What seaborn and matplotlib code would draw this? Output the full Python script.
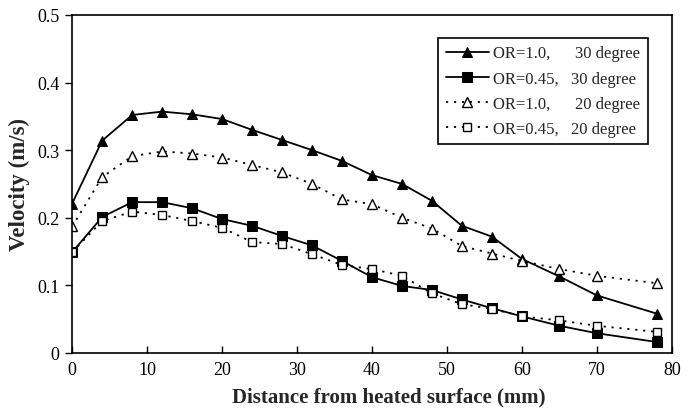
import numpy as np
import pandas as pd
import matplotlib
matplotlib.use("Agg")
import matplotlib.pyplot as plt
import seaborn as sns
from matplotlib.ticker import FuncFormatter

# Measurement positions (mm from heated surface)
distance = [0, 4, 8, 12, 16, 20, 24, 28, 32, 36, 40, 44, 48, 52, 56, 60, 65, 70, 78]

# Velocity profiles (m/s)
v_or10_30 = [0.221, 0.314, 0.352, 0.357, 0.353, 0.346, 0.330, 0.315, 0.300, 0.284,
             0.263, 0.250, 0.225, 0.188, 0.172, 0.139, 0.113, 0.085, 0.058]
v_or045_30 = [0.149, 0.201, 0.223, 0.223, 0.214, 0.198, 0.188, 0.173, 0.159, 0.136,
              0.112, 0.099, 0.093, 0.079, 0.066, 0.054, 0.040, 0.029, 0.016]
v_or10_20 = [0.187, 0.260, 0.291, 0.298, 0.295, 0.289, 0.278, 0.267, 0.250, 0.227,
             0.220, 0.200, 0.184, 0.158, 0.147, 0.136, 0.124, 0.114, 0.103]
v_or045_20 = [0.149, 0.195, 0.209, 0.204, 0.195, 0.185, 0.164, 0.161, 0.146, 0.130,
              0.124, 0.114, 0.088, 0.072, 0.065, 0.054, 0.048, 0.040, 0.031]

labels = ["OR=1.0,      30 degree",
          "OR=0.45,   30 degree",
          "OR=1.0,      20 degree",
          "OR=0.45,   20 degree"]

x_ticks = [0, 10, 20, 30, 40, 50, 60, 70, 80]
y_ticks = [0, 0.1, 0.2, 0.3, 0.4, 0.5]

sns.set_theme(style="white")
plt.rcParams["font.family"] = ["Liberation Serif", "DejaVu Serif"]
plt.rcParams["axes.linewidth"] = 1.2

fig = plt.figure(figsize=(6.94, 4.10), dpi=100)
ax = fig.add_axes([0.104, 0.137, 0.864, 0.824])

dotted = (0, (1.2, 3.2))
series = [
    (v_or10_30, dict(marker="^", markersize=7.5, markerfacecolor="black",
                     markeredgecolor="black", linestyle="-", linewidth=1.3)),
    (v_or045_30, dict(marker="s", markersize=6.5, markerfacecolor="black",
                      markeredgecolor="black", linestyle="-", linewidth=1.3)),
    (v_or10_20, dict(marker="^", markersize=6.5, markerfacecolor="white",
                     markeredgecolor="black", markeredgewidth=1.0,
                     linestyle=dotted, linewidth=1.3)),
    (v_or045_20, dict(marker="s", markersize=5.5, markerfacecolor="white",
                      markeredgecolor="black", markeredgewidth=1.0,
                      linestyle=dotted, linewidth=1.3)),
]

for (vals, kw), lab in zip(series, labels):
    df = pd.DataFrame({"distance": distance, "velocity": vals})
    sns.lineplot(data=df, x="distance", y="velocity", ax=ax, color="black",
                 label=lab, **kw)

ax.set_xlim(0, 80)
ax.set_ylim(0, 0.5)
ax.set_xticks(x_ticks)
ax.set_yticks(y_ticks)
ax.yaxis.set_major_formatter(FuncFormatter(lambda v, p: "0" if v == 0 else f"{v:.1f}"))
ax.tick_params(axis="x", direction="in", length=5, width=1, labelsize=13, pad=6, colors="black")
ax.tick_params(axis="y", direction="out", length=5, width=1, labelsize=13, pad=4, colors="black")
ax.tick_params(left=True, bottom=True)
for s in ax.spines.values():
    s.set_color("black")
    s.set_visible(True)

ax.set_xlabel("Distance from heated surface (mm)", fontsize=15, fontweight="bold", labelpad=6)
ax.xaxis.label.set_x(0.528)
ax.set_ylabel("Velocity (m/s)", fontsize=16.5, fontweight="bold", labelpad=5)

leg = ax.legend(loc="upper right", bbox_to_anchor=(0.96, 0.932), fontsize=12,
                frameon=True, fancybox=False, edgecolor="black", framealpha=1,
                handlelength=2.6, handletextpad=0.25, borderpad=0.45, labelspacing=0.55,
                borderaxespad=0.0)
leg.get_frame().set_linewidth(1.2)

fig.savefig("out.png", dpi=100)
